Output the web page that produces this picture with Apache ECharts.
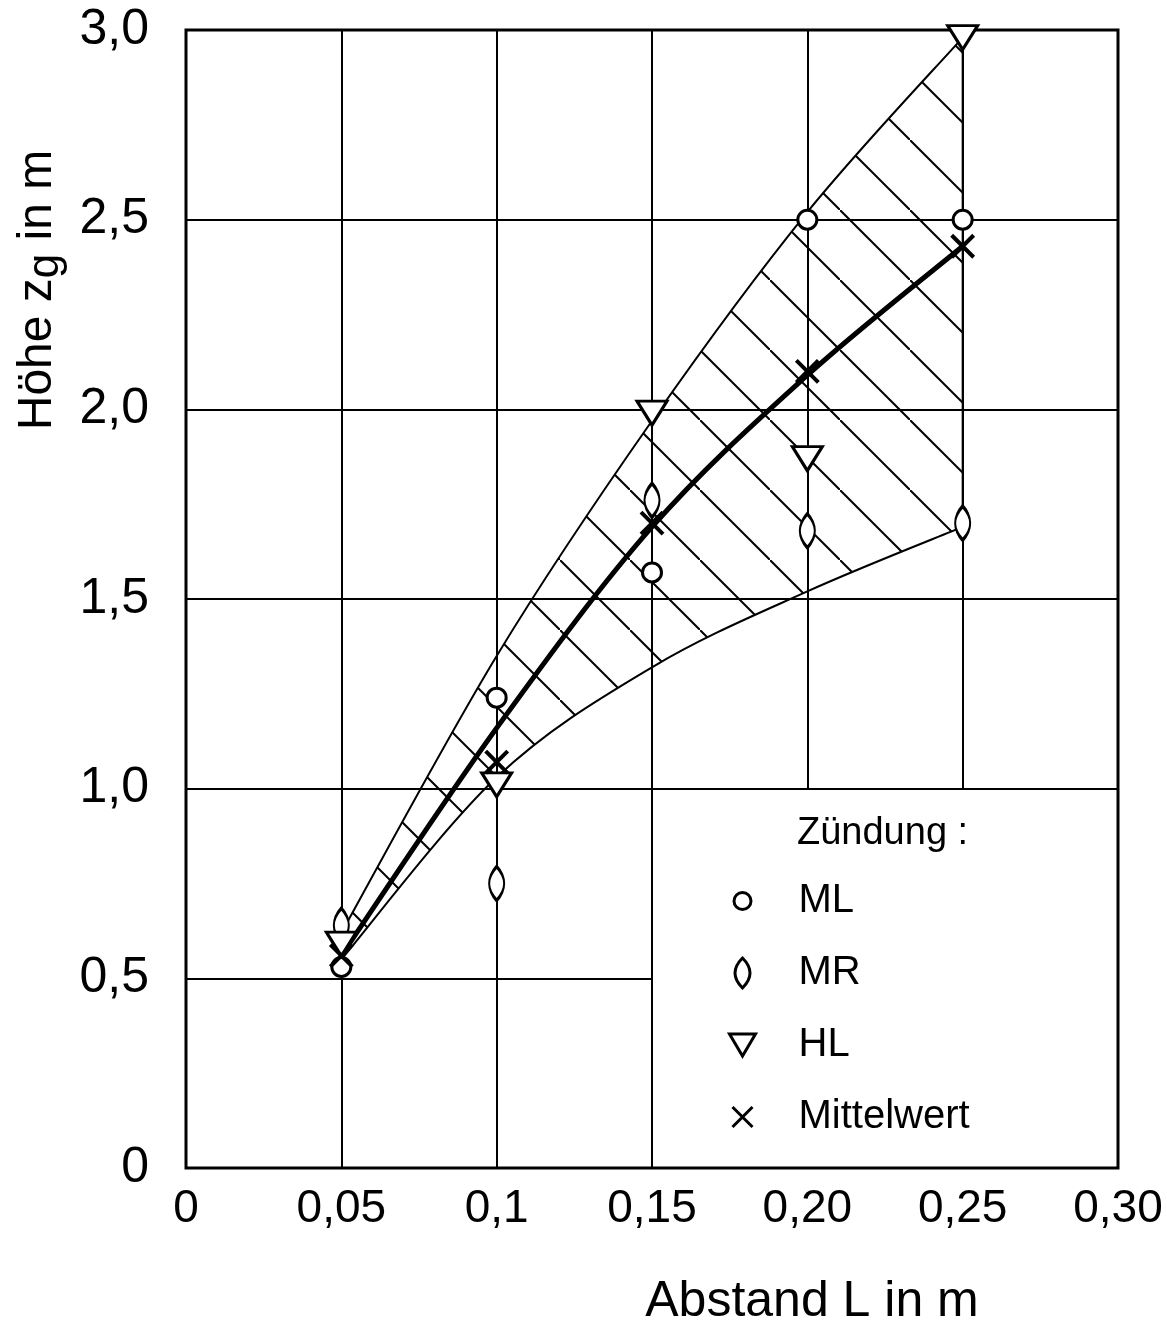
<!DOCTYPE html>
<html>
<head>
<meta charset="utf-8">
<script src="https://cdn.jsdelivr.net/npm/echarts@6/dist/echarts.min.js"></script>
<style>html,body{margin:0;padding:0;background:#fff}#chart{width:1167px;height:1329px}</style>
</head>
<body>
<div id="chart"></div>
<script>
// Messwerte je Abstand L in m
var abstand = [0.05, 0.1, 0.15, 0.2, 0.25];
var hoeheML = [0.53, 1.24, 1.57, 2.50, 2.50];
var hoeheMR = [0.64, 0.75, 1.76, 1.68, 1.70];
var hoeheHL = [0.59, 1.01, 1.99, 1.87, 2.98];
var hoeheMittel = [0.56, 1.07, 1.70, 2.10, 2.43];
// Ausgleichskurve und Streubereich (schraffiert)
var kurveMittel = [0.56, 1.16, 1.69, 2.09, 2.43];
var bandOben = [0.62, 1.35, 1.97, 2.52, 2.98];
var bandUnten = [0.55, 1.03, 1.32, 1.52, 1.69];
// Achsbeschriftung
var xTickLabels = ['0', '0,05', '0,1', '0,15', '0,20', '0,25', '0,30'];
var yTickLabels = ['0', '0,5', '1,0', '1,5', '2,0', '2,5', '3,0'];
// Gitternetz
var gitterX = [0.05, 0.1, 0.15];      // volle Hoehe
var gitterXOben = [0.2, 0.25];        // erst ab 1,0
var gitterY = [1.0, 1.5, 2.0, 2.5];   // volle Breite
var gitterYLinks = [0.5];             // nur bis 0,15

var schrift = '"Liberation Sans", Arial, sans-serif';

function punkte(werte) {
    return abstand.map(function (x, i) { return [x, werte[i]]; });
}

// Catmull-Rom -> Bezier, Punkte in Pixeln
function glatt(pts, mitStart) {
    var d = mitStart ? 'M' + pts[0][0] + ',' + pts[0][1] : 'L' + pts[0][0] + ',' + pts[0][1];
    var n = pts.length;
    for (var i = 0; i < n - 1; i++) {
        var p0 = pts[Math.max(i - 1, 0)], p1 = pts[i], p2 = pts[i + 1], p3 = pts[Math.min(i + 2, n - 1)];
        d += ' C' + (p1[0] + (p2[0] - p0[0]) / 6) + ',' + (p1[1] + (p2[1] - p0[1]) / 6) +
             ' ' + (p2[0] - (p3[0] - p1[0]) / 6) + ',' + (p2[1] - (p3[1] - p1[1]) / 6) +
             ' ' + p2[0] + ',' + p2[1];
    }
    return d;
}

// Schraffur als Muster
var kachel = document.createElement('canvas');
kachel.width = 70; kachel.height = 70;
var ctx = kachel.getContext('2d');
ctx.strokeStyle = '#000';
ctx.lineWidth = 2;
ctx.beginPath(); ctx.moveTo(-5, -5); ctx.lineTo(75, 75); ctx.stroke();

var gitterLinien = [];
gitterX.forEach(function (x) { gitterLinien.push([{coord: [x, 0]}, {coord: [x, 3]}]); });
gitterXOben.forEach(function (x) { gitterLinien.push([{coord: [x, 1]}, {coord: [x, 3]}]); });
gitterY.forEach(function (y) { gitterLinien.push([{coord: [0, y]}, {coord: [0.3, y]}]); });
gitterYLinks.forEach(function (y) { gitterLinien.push([{coord: [0, y]}, {coord: [0.15, y]}]); });

var symLinse = 'path://M5,0 Q11,10 5,20 Q-1,10 5,0 Z';
var symDreieck = 'path://M0,0 L10,0 L5,8 Z';
var symKreuz = 'path://M0,0 L10,10 M10,0 L0,10';

function renderBand(params, api) {
    if (params.dataIndex !== 0) return null;
    var oben = abstand.map(function (x, i) { return api.coord([x, bandOben[i]]); });
    var unten = abstand.map(function (x, i) { return api.coord([x, bandUnten[i]]); }).reverse();
    return {
        type: 'path',
        shape: {pathData: glatt(oben, true) + ' ' + glatt(unten, false) + ' Z'},
        style: {fill: {image: kachel, repeat: 'repeat'}, stroke: '#000', lineWidth: 2}
    };
}

function renderKurve(params, api) {
    if (params.dataIndex !== 0) return null;
    var pts = abstand.map(function (x, i) { return api.coord([x, kurveMittel[i]]); });
    return {
        type: 'path',
        shape: {pathData: glatt(pts, true)},
        style: {fill: 'none', stroke: '#000', lineWidth: 5, lineCap: 'round'}
    };
}

var chart = echarts.init(document.getElementById('chart'));
var option = {
    animation: false,
    grid: {left: 186, right: 49, top: 30, bottom: 161, show: true, borderColor: '#000', borderWidth: 3},
    xAxis: {
        type: 'value', min: 0, max: 0.3, interval: 0.05,
        axisLine: {show: false}, axisTick: {show: false}, splitLine: {show: false},
        axisLabel: {
            margin: 18, color: '#000', fontSize: 46, fontFamily: schrift,
            formatter: function (v) { return xTickLabels[Math.round(v / 0.05)]; }
        }
    },
    yAxis: {
        type: 'value', min: 0, max: 3, interval: 0.5,
        axisLine: {show: false}, axisTick: {show: false}, splitLine: {show: false},
        axisLabel: {
            margin: 37, color: '#000', fontSize: 50, fontFamily: schrift,
            formatter: function (v) { return yTickLabels[Math.round(v / 0.5)]; }
        }
    },
    legend: {
        orient: 'vertical', left: 720, top: 876, itemGap: 32,
        itemWidth: 67, itemHeight: 34,
        itemStyle: {borderWidth: 3, opacity: 1},
        textStyle: {fontSize: 40, color: '#000', fontFamily: schrift},
        data: [
            {name: 'ML', icon: 'path://M0,0 M67,34 M7.5,17 A8.5,8.5 0 1,0 24.5,17 A8.5,8.5 0 1,0 7.5,17 Z'},
            {name: 'MR', icon: 'path://M0,0 M67,34 M16,2 Q31,17 16,32 Q1,17 16,2 Z'},
            {name: 'HL', icon: 'path://M0,0 M67,34 M3,6 L29,6 L16,28 Z'},
            {name: 'Mittelwert', icon: 'path://M0,0 M67,34 M6,7 L26,27 M26,7 L6,27'}
        ]
    },
    graphic: [
        {type: 'text', left: 797, top: 815, style: {text: 'Zündung :', fontSize: 38, fontFamily: schrift, fill: '#000'}},
        {type: 'text', x: 812, y: 1302, style: {text: 'Abstand L in m', fontSize: 50, fontFamily: schrift, fill: '#000', align: 'center', verticalAlign: 'middle'}},
        {
            type: 'text', x: 38, y: 290, rotation: Math.PI / 2,
            style: {
                text: 'Höhe z{s|g} in m', fontSize: 48, fontFamily: schrift, fill: '#000',
                align: 'center', verticalAlign: 'middle',
                rich: {s: {fontSize: 44, fontFamily: schrift, padding: [16, 0, 0, 0]}}
            }
        }
    ],
    series: [
        {
            name: 'Gitter', type: 'line', data: [], silent: true, z: 1,
            markLine: {
                silent: true, symbol: ['none', 'none'], label: {show: false},
                lineStyle: {color: '#000', width: 2, type: 'solid'},
                data: gitterLinien
            }
        },
        {
            name: 'Streubereich', type: 'custom', silent: true, z: 2,
            data: punkte(bandOben), renderItem: renderBand
        },
        {
            name: 'Kurve', type: 'custom', silent: true, z: 3,
            data: punkte(kurveMittel), renderItem: renderKurve
        },
        {
            name: 'ML', type: 'scatter', z: 5, clip: false, data: punkte(hoeheML),
            symbol: 'circle', symbolSize: 19,
            itemStyle: {color: '#fff', borderColor: '#000', borderWidth: 3, opacity: 1}
        },
        {
            name: 'MR', type: 'scatter', z: 5, clip: false, data: punkte(hoeheMR),
            symbol: symLinse, symbolSize: [15, 34],
            itemStyle: {color: '#fff', borderColor: '#000', borderWidth: 3, opacity: 1}
        },
        {
            name: 'HL', type: 'scatter', z: 5, clip: false, data: punkte(hoeheHL),
            symbol: symDreieck, symbolSize: [30, 24],
            itemStyle: {color: '#fff', borderColor: '#000', borderWidth: 3, opacity: 1}
        },
        {
            name: 'Mittelwert', type: 'scatter', z: 6, clip: false, data: punkte(hoeheMittel),
            symbol: symKreuz, symbolSize: 22,
            itemStyle: {color: '#000', borderColor: '#000', borderWidth: 4, opacity: 1}
        }
    ]
};
chart.setOption(option);
</script>
</body>
</html>
